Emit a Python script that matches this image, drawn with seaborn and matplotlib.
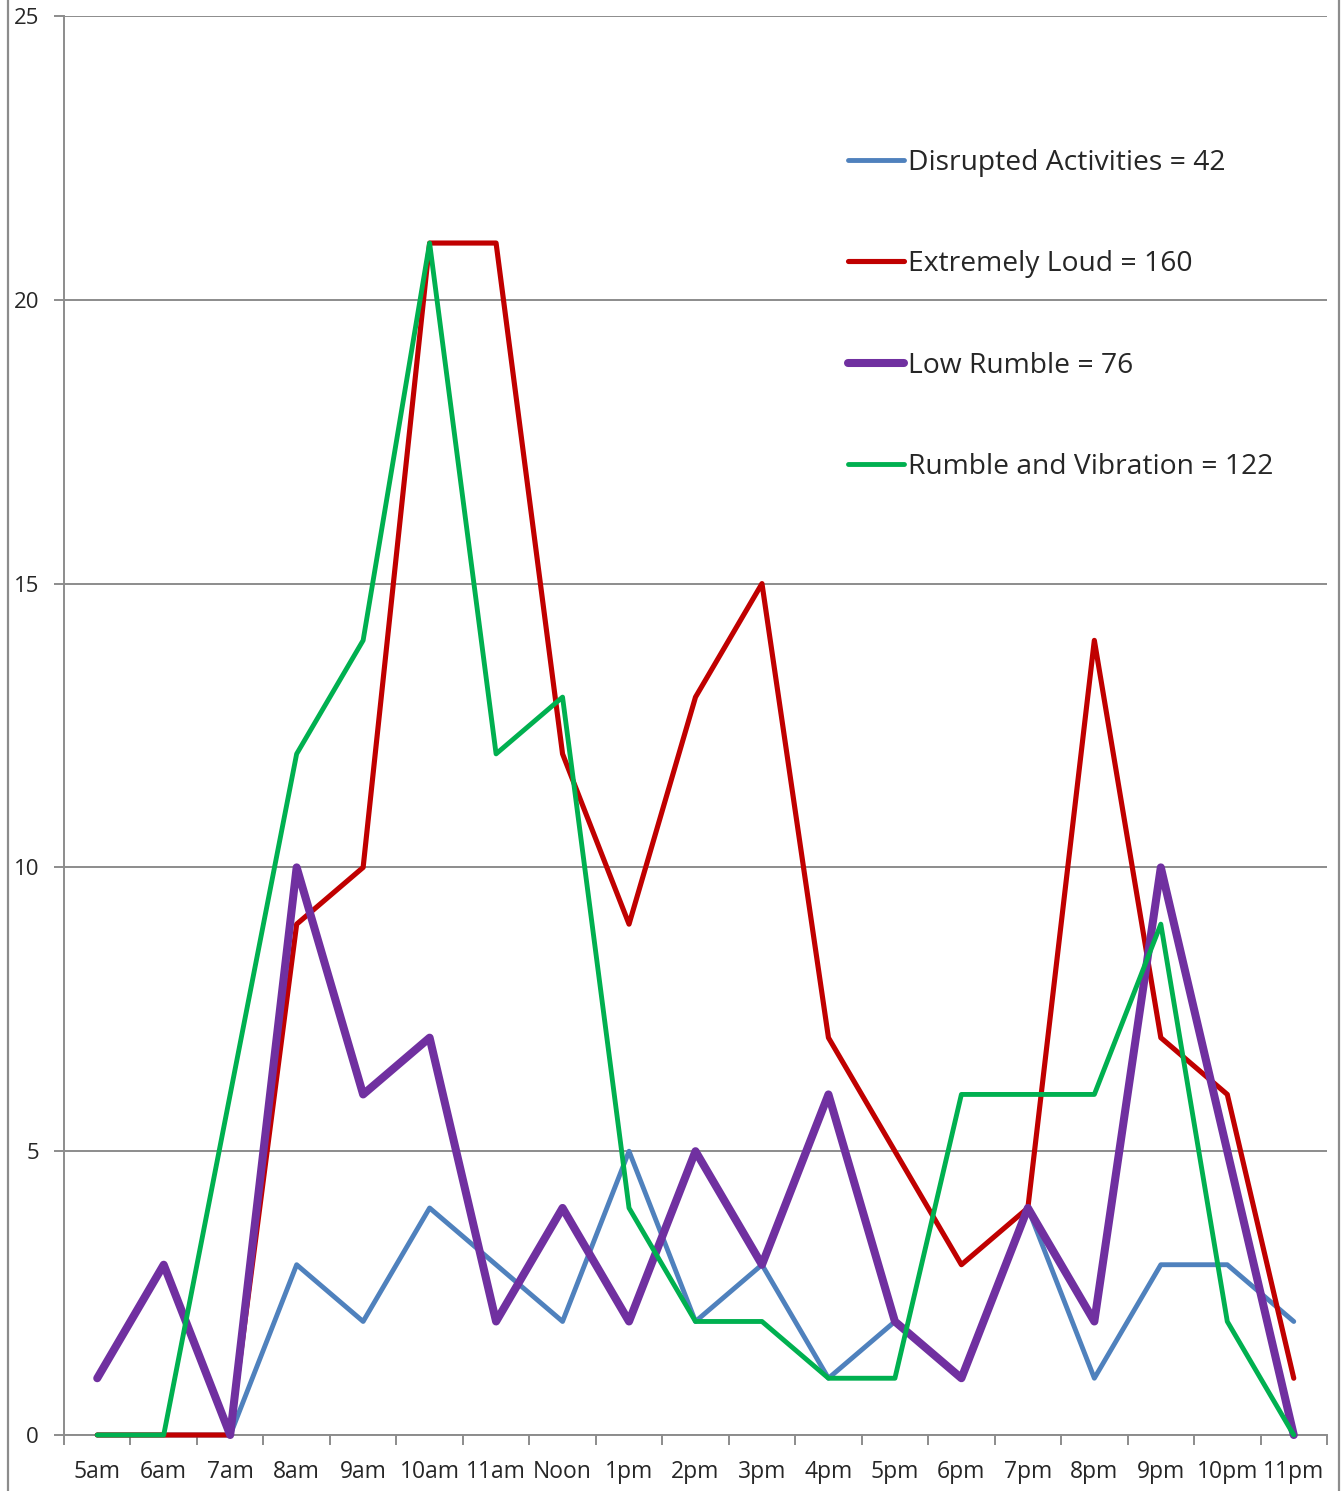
import numpy as np
import pandas as pd
import matplotlib.pyplot as plt
import seaborn as sns
from matplotlib.lines import Line2D

sns.set_style("white")
plt.rcParams["font.family"] = ["Open Sans", "DejaVu Sans"]

hours = ["5am", "6am", "7am", "8am", "9am", "10am", "11am", "Noon", "1pm", "2pm",
         "3pm", "4pm", "5pm", "6pm", "7pm", "8pm", "9pm", "10pm", "11pm"]
disrupted = [0, 0, 0, 3, 2, 4, 3, 2, 5, 2, 3, 1, 2, 1, 4, 1, 3, 3, 2]
extremely_loud = [0, 0, 0, 9, 10, 21, 21, 12, 9, 13, 15, 7, 5, 3, 4, 14, 7, 6, 1]
low_rumble = [1, 3, 0, 10, 6, 7, 2, 4, 2, 5, 3, 6, 2, 1, 4, 2, 10, 5, 0]
rumble_vibration = [0, 0, 6, 12, 14, 21, 12, 13, 4, 2, 2, 1, 1, 6, 6, 6, 9, 2, 0]

series = [
    ("Disrupted Activities = 42", disrupted, "#4F81BD", 3.5),
    ("Extremely Loud = 160", extremely_loud, "#C00000", 3.7),
    ("Low Rumble = 76", low_rumble, "#7030A0", 5.8),
    ("Rumble and Vibration = 122", rumble_vibration, "#00B050", 3.5),
]

W, H = 1344, 1491
fig = plt.figure(figsize=(W / 100, H / 100), dpi=100)
ax = fig.add_axes([64 / W, 1 - 1435 / H, (1327 - 64) / W, (1435 - 16) / H])

x = np.arange(len(hours))
for label, vals, color, lw in series:
    sns.lineplot(x=x, y=vals, ax=ax, color=color, linewidth=lw, label=label,
                 solid_capstyle="round", solid_joinstyle="round", clip_on=False,
                 zorder=3)

ax.set_xlim(-0.5, len(hours) - 0.5)
ax.set_ylim(0, 25)
ax.set_yticks([0, 5, 10, 15, 20, 25])
ax.yaxis.grid(True, color="#8c8c8c", linewidth=1.4)
ax.set_axisbelow(True)

ax.set_xticks(x)
ax.set_xticklabels(hours)
ax.set_xticks(np.arange(-0.5, len(hours)), minor=True)
ax.tick_params(axis="x", which="major", length=0, pad=18, labelsize=16.5)
ax.tick_params(axis="x", which="minor", length=7, width=1.4, color="#8c8c8c",
               direction="out", bottom=True)
ax.tick_params(axis="y", length=7, width=1.4, color="#8c8c8c", pad=11,
               labelsize=16, left=True)

for side in ["top", "right"]:
    ax.spines[side].set_visible(False)
for side in ["left", "bottom"]:
    ax.spines[side].set_color("#8c8c8c")
    ax.spines[side].set_linewidth(1.4)

leg = ax.legend(loc="upper left", bbox_to_anchor=(848 / W, 1 - 149 / H),
                bbox_transform=fig.transFigure, frameon=False, fontsize=20.3,
                handlelength=2.0, handletextpad=0.14, labelspacing=2.6,
                borderpad=0, borderaxespad=0)
for h in leg.get_lines():
    h.set_solid_capstyle("round")

# chart frame edges
for xf in [8 / W, 1339 / W]:
    fig.add_artist(Line2D([xf, xf], [0, 1], transform=fig.transFigure,
                          color="#8c8c8c", linewidth=1.6))

fig.savefig("out.png", dpi=100)
